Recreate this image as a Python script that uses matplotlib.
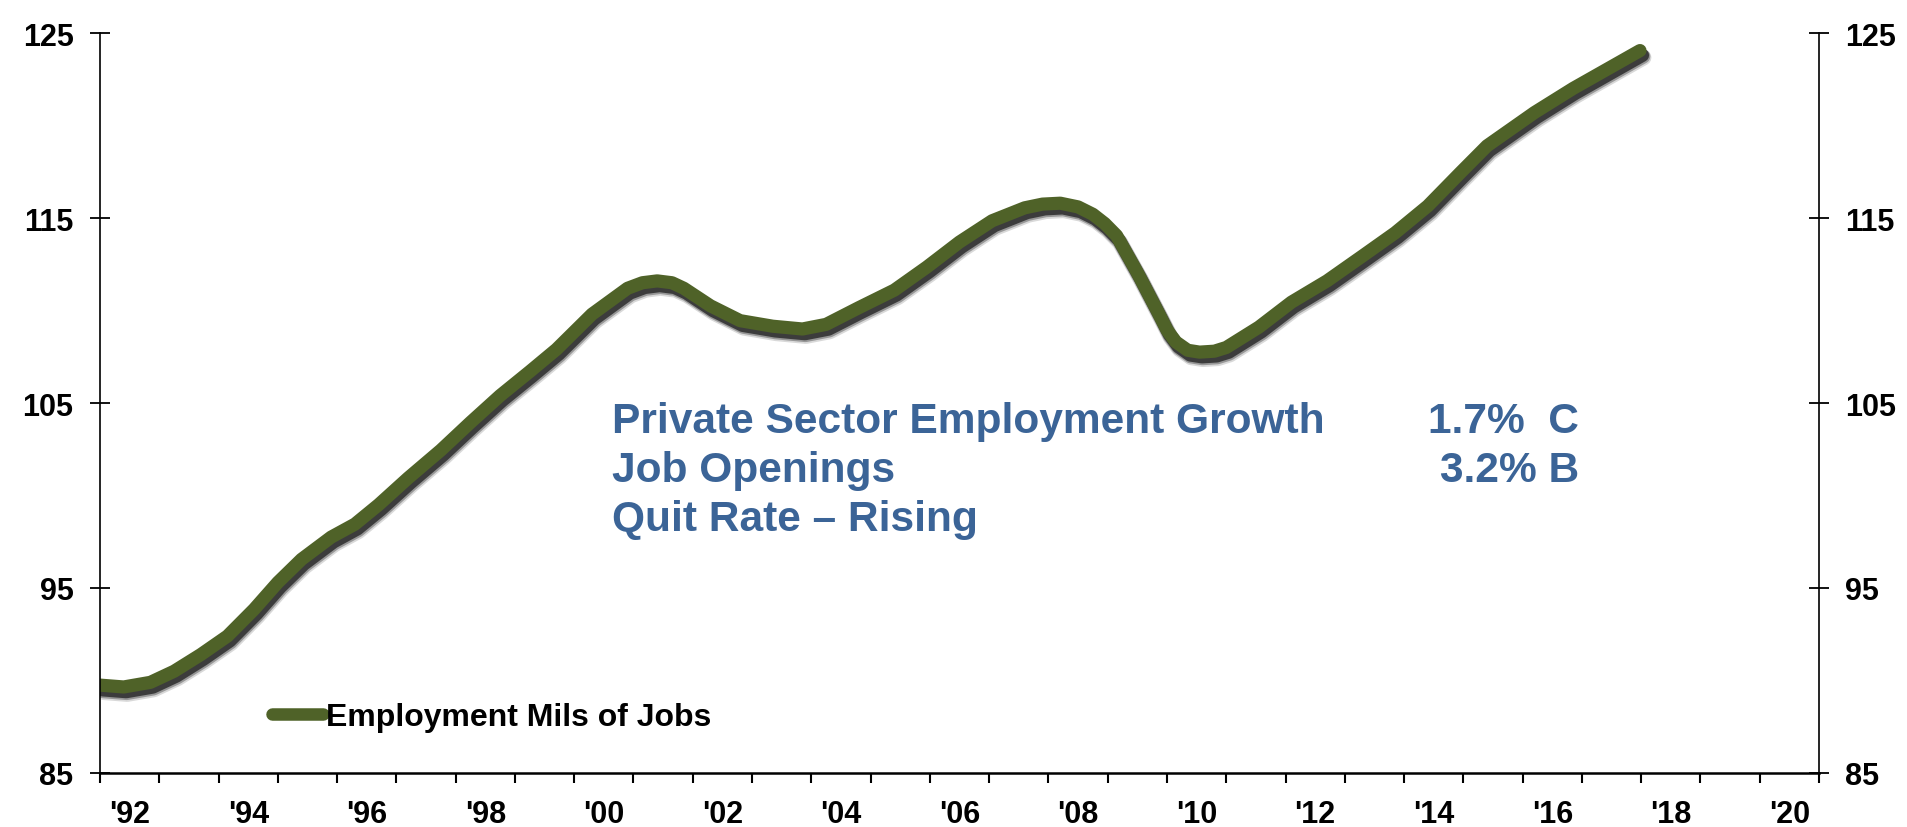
import matplotlib
matplotlib.use("Agg")
import matplotlib.pyplot as plt
import matplotlib.patheffects as pe
from matplotlib.lines import Line2D
from matplotlib.ticker import FixedLocator

plt.rcParams['font.family'] = ['Liberation Sans', 'DejaVu Sans']
plt.rcParams['font.weight'] = 'bold'

# employment, millions of jobs
years = [1992.0, 1992.4, 1992.85, 1993.25, 1993.7, 1994.15, 1994.6, 1995.0,
         1995.4, 1995.9, 1996.3, 1996.7, 1997.2, 1997.75, 1998.25, 1998.75,
         1999.25, 1999.7, 2000.3, 2000.9, 2001.15, 2001.4, 2001.65, 2001.85,
         2002.3, 2002.8, 2003.35, 2003.85, 2004.25, 2004.8, 2005.4, 2005.95,
         2006.5, 2007.05, 2007.6, 2007.9, 2008.2, 2008.5, 2008.75, 2008.95,
         2009.15, 2009.5, 2009.85, 2010.0, 2010.15, 2010.35, 2010.55, 2010.8,
         2011.0, 2011.55, 2012.1, 2012.7, 2013.3, 2013.85, 2014.4, 2014.95,
         2015.4, 2016.2, 2016.85, 2017.98]
jobs = [89.75, 89.65, 89.9, 90.5, 91.4, 92.4, 93.85, 95.3,
        96.55, 97.75, 98.45, 99.5, 100.95, 102.45, 103.95, 105.4,
        106.7, 107.9, 109.8, 111.2, 111.5, 111.6, 111.5, 111.2,
        110.25, 109.45, 109.15, 109.0, 109.25, 110.15, 111.1, 112.35,
        113.7, 114.85, 115.55, 115.75, 115.8, 115.6, 115.2, 114.7,
        114.05, 112.05, 109.9, 108.95, 108.3, 107.85, 107.75, 107.8,
        108.0, 109.1, 110.45, 111.6, 112.95, 114.2, 115.65, 117.45,
        118.9, 120.7, 122.0, 124.05]

first_year, last_year = 1992, 2020
yticks = [85, 95, 105, 115, 125]
label_years = list(range(1992, 2021, 2))

notes_left = ["Private Sector Employment Growth", "Job Openings", "Quit Rate \u2013 Rising"]
notes_right = ["1.7%  C", "3.2% B"]

green = '#4F6228'
blue = '#3B6497'

fig = plt.figure(figsize=(19.07, 8.28), dpi=100)
ax = fig.add_axes([100 / 1907, 1 - 774 / 828, 1719 / 1907, 740 / 828])

shadow = [pe.SimpleLineShadow(offset=(2.5, -5), shadow_color='k', alpha=0.15, linewidth=11.5),
          pe.SimpleLineShadow(offset=(2.2, -4.2), shadow_color='k', alpha=0.3, linewidth=10.5),
          pe.SimpleLineShadow(offset=(1.8, -3.4), shadow_color='k', alpha=0.6, linewidth=9.5),
          pe.Normal()]
ax.plot(years, jobs, color=green, lw=9.5, solid_capstyle='round',
        solid_joinstyle='round', path_effects=shadow)

ax.set_xlim(first_year, last_year + 1)
ax.set_ylim(85, 125)
ax.set_yticks(yticks)
ax.set_yticklabels([str(v) for v in yticks])
ax.xaxis.set_minor_locator(FixedLocator(range(first_year, last_year + 2)))
ax.set_xticks([y + 0.5 for y in label_years])
ax.set_xticklabels(["'%02d" % (y % 100) for y in label_years])

ax.spines['top'].set_visible(False)
ax.spines['bottom'].set_linewidth(1.8)
ax.spines['left'].set_linewidth(1.2)
ax.spines['right'].set_linewidth(1.2)

ax.tick_params(axis='x', which='major', length=0, pad=19, labelsize=22)
ax.tick_params(axis='x', which='minor', length=7, width=1.5, direction='out')
ax.tick_params(axis='y', direction='inout', length=14, width=1.3, left=True, right=True,
               labelleft=True, labelright=True, labelsize=22, pad=12)

leg_handle = Line2D([], [], color=green, lw=9, solid_capstyle='round')
ax.legend([leg_handle], ["Employment Mils of Jobs"], loc='center left',
          bbox_to_anchor=(272 / 1907, 1 - 718 / 828), bbox_transform=fig.transFigure,
          frameon=False, handlelength=1.6, handletextpad=0.1, borderpad=0,
          borderaxespad=0, prop={'size': 23, 'weight': 'bold'})

base_y = [433, 482, 531]
for txt, by in zip(notes_left, base_y):
    fig.text(612 / 1907, 1 - by / 828, txt, color=blue, fontsize=30.6,
             fontweight='bold', va='baseline', ha='left')
for txt, by in zip(notes_right, base_y):
    fig.text(1579 / 1907, 1 - by / 828, txt, color=blue, fontsize=30.6,
             fontweight='bold', va='baseline', ha='right')

fig.savefig('out.png', dpi=100)
